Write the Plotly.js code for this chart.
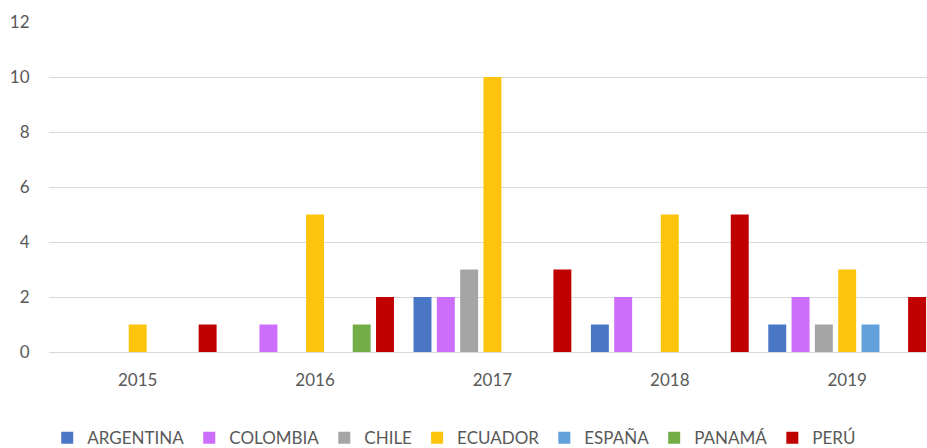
<!DOCTYPE html>
<html>
<head>
<meta charset="utf-8">
<script src="https://cdn.plot.ly/plotly-3.0.1.min.js"></script>
<style>html,body{margin:0;padding:0;background:#fff;}#chart{width:927px;height:448px;}</style>
</head>
<body>
<div id="chart"></div>
<script>
const years = ["2015", "2016", "2017", "2018", "2019"];
const seriesNames = ["ARGENTINA", "COLOMBIA", "CHILE", "ECUADOR", "ESPAÑA", "PANAMÁ", "PERÚ"];
const argentina = [0, 0, 2, 1, 1];
const colombia  = [0, 1, 2, 2, 2];
const chile     = [0, 0, 3, 0, 1];
const ecuador   = [1, 5, 10, 5, 3];
const espana    = [0, 0, 0, 0, 1];
const panama    = [0, 1, 0, 0, 0];
const peru      = [1, 2, 3, 5, 2];
const yTicks = [0, 2, 4, 6, 8, 10, 12];

const allValues = [argentina, colombia, chile, ecuador, espana, panama, peru];
const colors = ["#4a76c6", "#cc6dfc", "#a5a5a5", "#fcc40c", "#62a1dc", "#72ad48", "#c00000"];

const traces = seriesNames.map((name, i) => ({
  type: "bar",
  name: name,
  x: years,
  y: allValues[i],
  marker: { color: colors[i] },
  hoverinfo: "x+y+name"
}));

const fontFam = "Lato, 'Open Sans', sans-serif";
const layout = {
  width: 927,
  height: 448,
  margin: { l: 49, r: 0, t: 22, b: 96, autoexpand: false },
  paper_bgcolor: "#ffffff",
  plot_bgcolor: "#ffffff",
  barmode: "group",
  bargap: 0.08,
  bargroupgap: 0.23,
  showlegend: true,
  font: { family: fontFam, color: "#595959", size: 17 },
  xaxis: {
    type: "category",
    range: [-0.5, 4.45],
    showgrid: false,
    showline: true,
    linecolor: "#d9d9d9",
    linewidth: 1,
    zeroline: false,
    ticks: "outside",
    ticklen: 13,
    tickcolor: "rgba(0,0,0,0)",
    tickfont: { size: 17, color: "#595959", family: fontFam },
    fixedrange: true
  },
  yaxis: {
    range: [0, 12],
    tickvals: yTicks,
    ticktext: yTicks.map(String),
    showgrid: true,
    gridcolor: "#d9d9d9",
    gridwidth: 1,
    zeroline: false,
    showline: false,
    ticks: "outside",
    ticklen: 15,
    tickcolor: "rgba(0,0,0,0)",
    tickfont: { size: 17, color: "#595959", family: fontFam },
    fixedrange: true
  },
  legend: {
    orientation: "h",
    xref: "container",
    yref: "container",
    x: 0.49,
    xanchor: "center",
    y: 0.022,
    yanchor: "middle",
    font: { size: 17, color: "#595959", family: fontFam },
    itemwidth: 30,
    traceorder: "normal"
  }
};

Plotly.newPlot("chart", traces, layout, { displayModeBar: false, staticPlot: true });
</script>
</body>
</html>
